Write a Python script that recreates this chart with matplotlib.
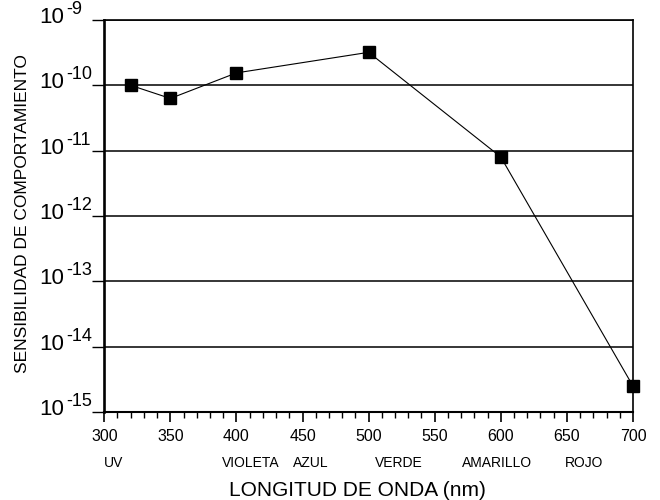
import numpy as np
import matplotlib
matplotlib.use("Agg")
import matplotlib.pyplot as plt
from matplotlib.ticker import MultipleLocator, NullFormatter

plt.rcParams['font.family'] = ['Liberation Sans', 'DejaVu Sans']

# Data
wavelength = [320, 350, 400, 500, 600, 700]
sensitivity = [1.0e-10, 6.3e-11, 1.55e-10, 3.2e-10, 8.0e-12, 2.5e-15]

# Decades shown on the y axis
decades = [-15, -14, -13, -12, -11, -10, -9]

# Colour band names under the x axis (centre wavelength of each label)
band_names = ['UV', 'VIOLETA', 'AZUL', 'VERDE', 'AMARILLO', 'ROJO']
band_centres = [307, 411, 456, 523, 597, 663]

fig = plt.figure(figsize=(6.6, 5.0), dpi=100)
ax = fig.add_axes([0.158, 0.176, 0.801, 0.784])

ax.plot(wavelength, sensitivity, color='black', linewidth=0.8,
        marker='s', markersize=9, markerfacecolor='black',
        markeredgecolor='black', clip_on=False, zorder=5)

ax.set_yscale('log')
ax.set_xlim(300, 700)
ax.set_ylim(1e-15, 1e-9)

# y ticks at every decade, labels drawn by hand as "10" + raised exponent
ax.set_yticks([10.0 ** e for e in decades])
ax.yaxis.set_major_formatter(NullFormatter())
ax.tick_params(axis='y', which='minor', length=0)
ax.tick_params(axis='y', which='major', direction='out', length=9, width=1.0)

ytrans = ax.get_yaxis_transform()
for e in decades:
    ax.annotate('10', xy=(0, 10.0 ** e), xycoords=ytrans,
                xytext=(-65, -3), textcoords='offset pixels',
                ha='left', va='baseline', fontsize=16)
    ax.annotate('-%d' % abs(e), xy=(0, 10.0 ** e), xycoords=ytrans,
                xytext=(-38, 6), textcoords='offset pixels',
                ha='left', va='baseline', fontsize=13)

ax.xaxis.set_major_locator(MultipleLocator(50))
ax.xaxis.set_minor_locator(MultipleLocator(10))
ax.tick_params(axis='x', which='major', direction='out', length=7, width=1.2,
               labelsize=11.5, pad=5)
ax.tick_params(axis='x', which='minor', direction='out', length=4, width=1.0)

ax.grid(True, axis='y', which='major', color='black', linewidth=1.1)
ax.set_axisbelow(True)

ax.spines['left'].set_linewidth(1.9)
ax.spines['bottom'].set_linewidth(1.5)
ax.spines['right'].set_linewidth(1.2)
ax.spines['top'].set_linewidth(1.2)

for name, x in zip(band_names, band_centres):
    ax.text(x, -0.130, name, transform=ax.get_xaxis_transform(),
            ha='center', va='center', fontsize=10)

ax.set_xlabel('LONGITUD DE ONDA (nm)', fontsize=15)
ax.xaxis.set_label_coords(0.478, -0.175)
ax.set_ylabel('SENSIBILIDAD DE COMPORTAMIENTO', fontsize=12.5)
ax.yaxis.set_label_coords(-0.141, 0.505)

fig.savefig('out.png', dpi=100)
